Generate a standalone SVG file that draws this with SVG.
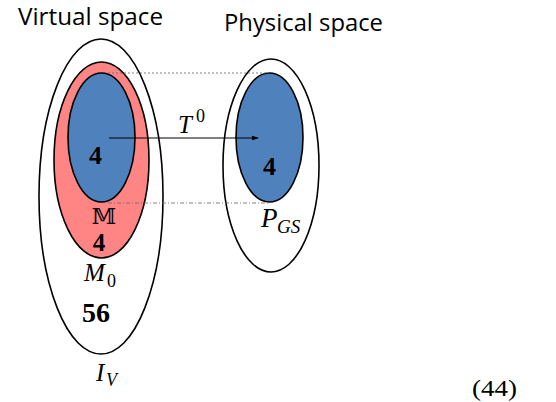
<svg xmlns="http://www.w3.org/2000/svg" width="556" height="402" viewBox="0 0 556 402">
<style>
.title{font-family:"Open Sans","Liberation Sans",sans-serif;font-size:23px;fill:#000}
.math{font-family:"Liberation Serif","DejaVu Serif",serif;font-style:italic;fill:#000}
.up{font-family:"Liberation Serif","DejaVu Serif",serif;fill:#000}
.bold{font-family:"Liberation Serif","DejaVu Serif",serif;font-weight:bold;fill:#000}
.outer{fill:#fff;stroke:#000;stroke-width:1.6}
.red{fill:#FF8585;stroke:#000;stroke-width:1.6}
.blue{fill:#4F81BD;stroke:#000;stroke-width:1.6}
.guide{stroke:#666;stroke-width:0.8;fill:none}
</style>
<defs>
<marker id="arr" viewBox="0 0 10 10" refX="9" refY="5" markerWidth="7" markerHeight="7" orient="auto" markerUnits="userSpaceOnUse">
<path d="M0,1.5 L10,5 L0,8.5 z" fill="#000"/>
</marker>
</defs>
<rect width="556" height="402" fill="#fff"/>
<text class="title" x="18" y="25" textLength="145" lengthAdjust="spacingAndGlyphs">Virtual space</text>
<text class="title" x="224" y="31" textLength="159" lengthAdjust="spacingAndGlyphs">Physical space</text>
<g id="IV">
<ellipse class="outer" cx="101" cy="196.5" rx="62" ry="157.5"/>
<text class="math" x="96" y="381" font-size="25">I</text>
<text class="math" x="106" y="386" font-size="18">V</text>
<text class="bold" x="96" y="322" font-size="28" text-anchor="middle">56</text>
</g>
<g id="M0">
<ellipse class="red" cx="101.5" cy="160" rx="47.5" ry="98"/>
<text class="math" x="84" y="281" font-size="25">M</text>
<text class="up" x="107" y="287" font-size="18">0</text>
<text x="104" y="224" font-size="22" text-anchor="middle" font-family="DejaVu Serif,serif">𝕄</text>
<text class="bold" x="99" y="251" font-size="25" text-anchor="middle">4</text>
</g>
<g id="Vblue">
<ellipse class="blue" cx="101.5" cy="137.5" rx="33.5" ry="64.5"/>
<text class="bold" x="95.5" y="164" font-size="26" text-anchor="middle">4</text>
</g>
<g id="PGS">
<ellipse class="outer" cx="271" cy="165.5" rx="48" ry="106.5"/>
<ellipse class="blue" cx="269.5" cy="137.5" rx="33.5" ry="64.5"/>
<text class="bold" x="269.5" y="175" font-size="26" text-anchor="middle">4</text>
<text class="math" x="261" y="227" font-size="27">P</text>
<text class="math" x="277" y="233" font-size="19">GS</text>
</g>
<g id="connectors">
<line class="guide" x1="108" y1="73" x2="269" y2="73" stroke-dasharray="2,2"/>
<line class="guide" x1="108" y1="203" x2="269" y2="203" stroke-dasharray="4,2,1,2"/>
<line x1="109" y1="138" x2="258" y2="138" stroke="#000" stroke-width="1.2" marker-end="url(#arr)"/>
<text class="math" x="178" y="133" font-size="25">T</text>
<text class="up" x="196" y="122" font-size="18">0</text>
</g>
<text class="up" x="472" y="396" font-size="24" textLength="45" lengthAdjust="spacingAndGlyphs">(44)</text>
</svg>
